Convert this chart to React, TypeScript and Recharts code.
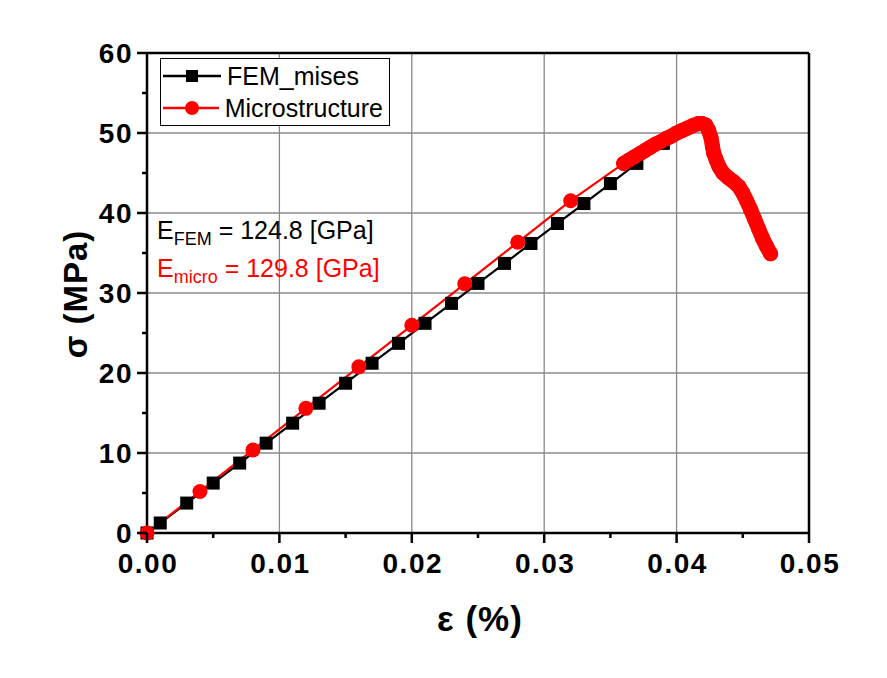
import React from 'react';
import { LineChart, Line, XAxis, YAxis, ReferenceLine, Legend } from 'recharts';

// FEM (von Mises) curve
const femStrain = [0, 0.001, 0.003, 0.005, 0.007, 0.009, 0.011, 0.013, 0.015, 0.017, 0.019, 0.021, 0.023, 0.025, 0.027, 0.029, 0.031, 0.033, 0.035, 0.037, 0.039];
const femStress = [0, 1.25, 3.74, 6.24, 8.74, 11.23, 13.73, 16.22, 18.72, 21.22, 23.71, 26.21, 28.7, 31.2, 33.7, 36.19, 38.69, 41.18, 43.68, 46.2, 48.7];

// Microstructure curve: sparse linear part, then the dense part near the peak
const microStrain = [0, 0.004, 0.008, 0.012, 0.016, 0.02, 0.024, 0.028, 0.032];
const microStress = [0, 5.19, 10.38, 15.58, 20.77, 25.96, 31.15, 36.34, 41.54];
const peakStrain = [0.036, 0.0364, 0.0368, 0.0372, 0.0376, 0.038, 0.0384, 0.0388, 0.0392, 0.0396, 0.04, 0.0404, 0.0408, 0.0412, 0.0416, 0.0419, 0.0422, 0.0424, 0.0426, 0.0427, 0.0428, 0.043, 0.0432, 0.0435, 0.0439, 0.0443, 0.0447, 0.045, 0.0453, 0.0456, 0.0459, 0.0462, 0.0465, 0.0468, 0.0471];
const peakStress = [46.2, 46.6, 47.0, 47.4, 47.8, 48.2, 48.6, 48.9, 49.3, 49.6, 50.0, 50.3, 50.6, 50.9, 51.15, 51.2, 51.0, 50.4, 49.4, 48.4, 47.5, 46.6, 45.8, 45.0, 44.4, 43.9, 43.3, 42.5, 41.5, 40.4, 39.2, 38.0, 36.8, 35.8, 34.9];

const xTicks = [0, 0.005, 0.01, 0.015, 0.02, 0.025, 0.03, 0.035, 0.04, 0.045, 0.05];
const yTicks = [0, 5, 10, 15, 20, 25, 30, 35, 40, 45, 50, 55, 60];
const xGrid = [0.01, 0.02, 0.03, 0.04];
const yGrid = [10, 20, 30, 40, 50];

const femData = femStrain.map((x, i) => ({ x, y: femStress[i] }));
const peakData = peakStrain.map((x, i) => ({ x, y: peakStress[i] }));
const microData = [...microStrain.map((x, i) => ({ x, y: microStress[i] })), ...peakData];

const FONT = '"Liberation Sans", Arial, sans-serif';
const RED = '#ff0000';

const XTick = (props: any) => {
  const { x, y, payload } = props;
  const v = payload.value;
  const major = Math.abs(v * 100 - Math.round(v * 100)) < 1e-6;
  const top = y - 18;
  return (
    <g>
      <line x1={x} x2={x} y1={top} y2={top + (major ? 10 : 5)} stroke="#000" strokeWidth={2.5} />
      {major && (
        <text x={x + 1} y={top + 40} textAnchor="middle" fontFamily={FONT} fontWeight="bold" fontSize={28} letterSpacing={1.5} fill="#000">
          {v.toFixed(2)}
        </text>
      )}
    </g>
  );
};

const YTick = (props: any) => {
  const { x, y, payload } = props;
  const v = payload.value;
  const major = v % 10 === 0;
  const right = x + 18;
  return (
    <g>
      <line x1={right} x2={right - (major ? 10 : 5)} y1={y} y2={y} stroke="#000" strokeWidth={2.5} />
      {major && (
        <text x={right - 14} y={y + 10} textAnchor="end" fontFamily={FONT} fontWeight="bold" fontSize={28} letterSpacing={1.5} fill="#000">
          {v}
        </text>
      )}
    </g>
  );
};

const renderLegend = ({ payload }: any) => (
  <div style={{ border: '1px solid #000', background: '#fff', padding: '1px 6px 1px 2px', fontFamily: FONT, fontSize: 25, width: 220 }}>
    {payload
      .filter((e: any) => e.value !== 'peak')
      .map((e: any) => (
        <div key={e.value} style={{ display: 'flex', alignItems: 'center', height: 32 }}>
          <svg width={58} height={20}>
            <line x1={0} x2={58} y1={10} y2={10} stroke={e.color} strokeWidth={2.5} />
            {e.value === 'FEM_mises' ? (
              <rect x={23} y={4} width={12} height={12} fill="#000" />
            ) : (
              <circle cx={29} cy={10} r={7} fill={RED} />
            )}
          </svg>
          <span style={{ marginLeft: 6, color: '#000' }}>{e.value}</span>
        </div>
      ))}
  </div>
);

const Square = (p: any) => (
  <rect key={`sq-${p.index}`} x={p.cx - 6.5} y={p.cy - 6.5} width={13} height={13} fill="#000" />
);

export default function App() {
  return (
    <div style={{ position: 'absolute', left: 0, top: 0, width: 887, height: 678, background: '#fff' }}>
      <LineChart width={887} height={678} margin={{ top: 53, right: 78, bottom: 85, left: 87 }}>
        <XAxis
          type="number"
          dataKey="x"
          domain={[0, 0.05]}
          ticks={xTicks}
          height={60}
          tickSize={10}
          tickMargin={8}
          tickLine={false}
          tick={<XTick />}
          axisLine={{ stroke: '#000', strokeWidth: 2.5 }}
        />
        <YAxis
          type="number"
          domain={[0, 60]}
          ticks={yTicks}
          width={60}
          tickSize={10}
          tickMargin={8}
          tickLine={false}
          tick={<YTick />}
          axisLine={{ stroke: '#000', strokeWidth: 2.5 }}
        />
        {xGrid.map((v) => (
          <ReferenceLine key={`gx${v}`} x={v} stroke="#8a8a8a" strokeWidth={1.3} />
        ))}
        {yGrid.map((v) => (
          <ReferenceLine key={`gy${v}`} y={v} stroke="#8a8a8a" strokeWidth={1.3} />
        ))}
        <ReferenceLine y={60} stroke="#000" strokeWidth={2.5} />
        <ReferenceLine x={0.05} stroke="#000" strokeWidth={2.5} />
        <Line
          data={femData}
          dataKey="y"
          name="FEM_mises"
          type="linear"
          stroke="#000"
          strokeWidth={2.2}
          dot={Square}
          activeDot={false}
          isAnimationActive={false}
        />
        <Line
          data={microData}
          dataKey="y"
          name="Microstructure"
          type="linear"
          stroke={RED}
          strokeWidth={2.2}
          dot={{ r: 7.5, fill: RED, stroke: RED, strokeWidth: 0 }}
          activeDot={false}
          isAnimationActive={false}
        />
        <Line
          data={peakData}
          dataKey="y"
          name="peak"
          type="linear"
          stroke={RED}
          strokeWidth={15}
          strokeLinecap="round"
          strokeLinejoin="round"
          dot={false}
          activeDot={false}
          legendType="none"
          isAnimationActive={false}
        />
        <Legend
          content={renderLegend}
          layout="horizontal"
          verticalAlign="middle"
          align="center"
          wrapperStyle={{ left: 160, top: 58, width: 'auto', height: 'auto' }}
        />
      </LineChart>
      <svg width={887} height={678} style={{ position: 'absolute', left: 0, top: 0, pointerEvents: 'none' }}>
        <text transform="translate(87, 294) rotate(-90)" textAnchor="middle" fontFamily={FONT} fontWeight="bold" fontSize={33} letterSpacing={1} fill="#000">
          σ (MPa)
        </text>
        <text x={480} y={631} textAnchor="middle" fontFamily={FONT} fontWeight="bold" fontSize={35} letterSpacing={1} fill="#000">
          ε (%)
        </text>
        <text x={157} y={239} fontFamily={FONT} fontSize={25} fill="#000">
          E<tspan fontSize={18} dy={6}>FEM</tspan>
          <tspan dy={-6}> = 124.8 [GPa]</tspan>
        </text>
        <text x={157} y={277} fontFamily={FONT} fontSize={25} fill={RED}>
          E<tspan fontSize={18} dy={6}>micro</tspan>
          <tspan dy={-6}> = 129.8 [GPa]</tspan>
        </text>
      </svg>
    </div>
  );
}
